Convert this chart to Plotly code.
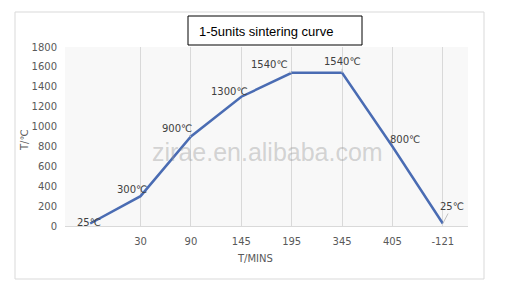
import plotly.graph_objects as go

# Data
time_labels = ["", "30", "90", "145", "195", "345", "405", "-121"]
temperatures = [25, 300, 900, 1300, 1540, 1540, 800, 25]
point_labels = ["25℃", "300℃", "900℃", "1300℃", "1540℃", "1540℃", "800℃", "25℃"]
y_ticks = [0, 200, 400, 600, 800, 1000, 1200, 1400, 1600, 1800]

x_idx = list(range(len(time_labels)))

W, H = 530, 295
L, R, T, B = 65, 62, 47, 69
pw, ph = W - L - R, H - T - B

def px_x(p):
    return (p - L) / pw

def px_y(p):
    return (H - B - p) / ph

fig = go.Figure()
fig.add_trace(go.Scatter(
    x=x_idx, y=temperatures, mode="lines",
    line=dict(color="#4a6cb3", width=2.5),
    hoverinfo="skip", showlegend=False,
))

# label offsets (pixels, text centre relative to point)
offsets = [(-1, -1), (-9, -7), (-14, -8), (-12, -5), (-22, -8), (0, -11), (13, -7), (9, -17)]
lab_font = dict(family="DejaVu Sans", size=10, color="#404040")
for i, (txt, (ax, ay)) in enumerate(zip(point_labels, offsets)):
    fig.add_annotation(
        x=x_idx[i], y=temperatures[i], xref="x", yref="y", text=txt,
        showarrow=(i != 0), arrowhead=0, arrowwidth=1, arrowcolor="#bfbfbf",
        ax=ax, ay=ay, standoff=0, font=lab_font,
        xshift=(ax if i == 0 else 0), yshift=(-ay if i == 0 else 0),
    )

axis_font = dict(family="DejaVu Sans", size=10, color="#595959")

# outer frame
fig.add_shape(type="rect", xref="paper", yref="paper",
              x0=px_x(15), x1=px_x(484), y0=px_y(279), y1=px_y(12),
              line=dict(color="#d9d9d9", width=1), fillcolor="rgba(0,0,0,0)", layer="below")
# title box
fig.add_shape(type="rect", xref="paper", yref="paper",
              x0=px_x(188), x1=px_x(362), y0=px_y(45), y1=px_y(16),
              line=dict(color="black", width=1), fillcolor="white")
fig.add_annotation(xref="paper", yref="paper", x=px_x(197), y=px_y(31),
                   xanchor="left", yanchor="middle", showarrow=False,
                   text="1-5units sintering curve",
                   font=dict(family="Liberation Sans", size=13, color="black"))
# watermark
fig.add_annotation(xref="paper", yref="paper", x=px_x(267), y=px_y(152),
                   xanchor="center", yanchor="middle", showarrow=False,
                   text="zirae.en.alibaba.com",
                   font=dict(family="Liberation Sans", size=25, color="rgba(150,150,150,0.4)"))
# axis titles
fig.add_annotation(xref="paper", yref="paper", x=px_x(255), y=px_y(258),
                   xanchor="center", yanchor="middle",
                   showarrow=False, text="T/MINS", font=axis_font)
fig.add_annotation(xref="paper", yref="paper", x=px_x(24), y=px_y(140),
                   xanchor="center", yanchor="middle",
                   showarrow=False, text="T/℃", textangle=-90, font=axis_font)

fig.update_xaxes(
    range=[-0.5, len(time_labels) - 0.5],
    tickvals=x_idx[1:], ticktext=time_labels[1:],
    showgrid=True, gridcolor="#d9d9d9", gridwidth=1,
    showline=True, linecolor="#d9d9d9", linewidth=1,
    zeroline=False, ticks="outside", ticklen=6, tickcolor="rgba(0,0,0,0)",
    tickfont=axis_font,
)
fig.update_yaxes(
    range=[0, 1800], tickvals=y_ticks,
    showgrid=False, zeroline=False, showline=False,
    ticks="outside", ticklen=5, tickcolor="rgba(0,0,0,0)",
    tickfont=axis_font,
)
fig.update_layout(
    width=W, height=H, margin=dict(l=L, r=R, t=T, b=B),
    paper_bgcolor="white", plot_bgcolor="#f8f8f8",
    showlegend=False,
)
fig.write_html("out.html")
